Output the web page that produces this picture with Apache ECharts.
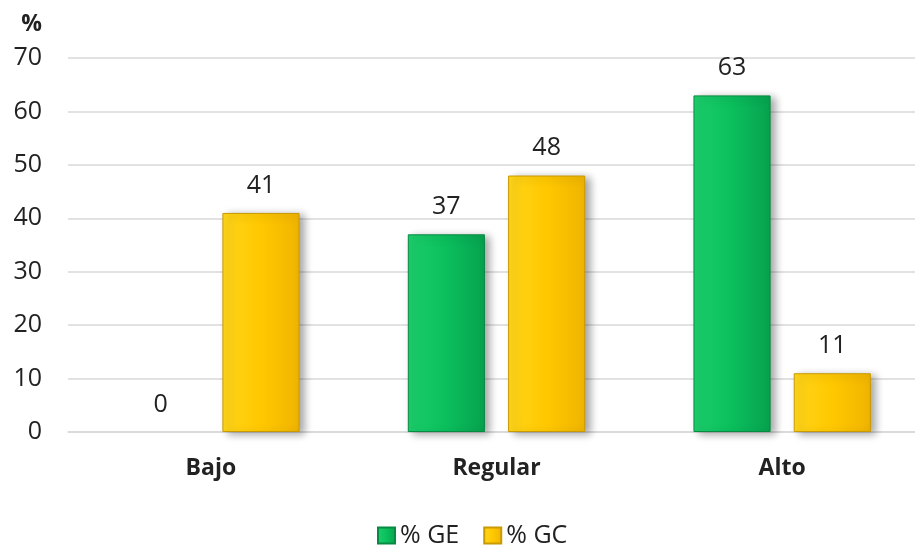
<!DOCTYPE html>
<html>
  <head>
    <meta charset="utf-8" />
    <title>GE vs GC</title>
    <script src="https://cdn.jsdelivr.net/npm/echarts@6.0.0/dist/echarts.min.js"></script>
  </head>
  <body style="margin: 0; overflow: hidden">
    <div id="main" style="width: 926px; height: 553px"></div>

    <script>
      // datos
      var categorias = ["Bajo", "Regular", "Alto"];
      var valoresGE = [0, 37, 63];
      var valoresGC = [41, 48, 11];
      var nombres = ["% GE", "% GC"];

      var fuente = "'Open Sans', 'Noto Sans', sans-serif";

      function degradado(claro, medio, oscuro) {
        return new echarts.graphic.LinearGradient(0, 0, 1, 0, [
          { offset: 0, color: claro },
          { offset: 0.5, color: medio },
          { offset: 1, color: oscuro },
        ]);
      }

      // la barra de valor 0 no se dibuja (solo su etiqueta)
      function conBorde(valores) {
        return valores.map(function (v) {
          if (v !== 0) return v;
          return {
            value: v,
            itemStyle: {
              color: "transparent",
              borderWidth: 0,
              shadowColor: "transparent",
              shadowBlur: 0,
            },
          };
        });
      }

      var myChart = echarts.init(document.getElementById("main"));

      var etiqueta = {
        show: true,
        position: "top",
        distance: 15,
        fontFamily: fuente,
        fontSize: 25,
        color: "#222",
      };

      var option = {
        animation: false,
        textStyle: { fontFamily: fuente },
        grid: { left: 68, top: 58, bottom: 121, right: 1 },
        legend: {
          bottom: 0,
          left: 372,
          itemWidth: 17,
          itemHeight: 16,
          itemGap: 24,
          icon: "rect",
          textStyle: { fontSize: 25, color: "#222", fontFamily: fuente },
          data: nombres,
        },
        xAxis: {
          type: "category",
          data: categorias,
          axisTick: { show: false },
          axisLine: { lineStyle: { color: "#d9d9d9", width: 1.5 } },
          axisLabel: {
            margin: 25,
            fontSize: 23,
            fontWeight: "bold",
            color: "#222",
            fontFamily: fuente,
          },
        },
        yAxis: {
          type: "value",
          min: 0,
          max: 70,
          interval: 10,
          name: "%",
          nameLocation: "end",
          nameGap: 22,
          nameTextStyle: {
            fontSize: 23,
            fontWeight: "bold",
            color: "#222",
            align: "right",
            padding: [0, 26, 0, 0],
            fontFamily: fuente,
          },
          axisLine: { show: false },
          axisTick: { show: false },
          splitLine: { lineStyle: { color: "#d9d9d9", width: 1.5 } },
          axisLabel: {
            margin: 26,
            fontSize: 25,
            color: "#222",
            fontFamily: fuente,
          },
        },
        series: [
          {
            name: nombres[0],
            type: "bar",
            data: conBorde(valoresGE),
            barWidth: "27%",
            barGap: "30%",
            label: etiqueta,
            itemStyle: {
              color: degradado("#1ccf6c", "#0bbf5d", "#07a24e"),
              borderColor: "#078a42",
              borderWidth: 1,
              shadowColor: "rgba(0,0,0,0.35)",
              shadowBlur: 8,
              shadowOffsetX: 5,
              shadowOffsetY: 2,
            },
          },
          {
            name: nombres[1],
            type: "bar",
            data: conBorde(valoresGC),
            barWidth: "27%",
            label: etiqueta,
            itemStyle: {
              color: degradado("#ffd51a", "#ffc800", "#f0b400"),
              borderColor: "#c99a00",
              borderWidth: 1,
              shadowColor: "rgba(0,0,0,0.35)",
              shadowBlur: 8,
              shadowOffsetX: 5,
              shadowOffsetY: 2,
            },
          },
        ],
      };

      myChart.setOption(option);
    </script>
  </body>
</html>
